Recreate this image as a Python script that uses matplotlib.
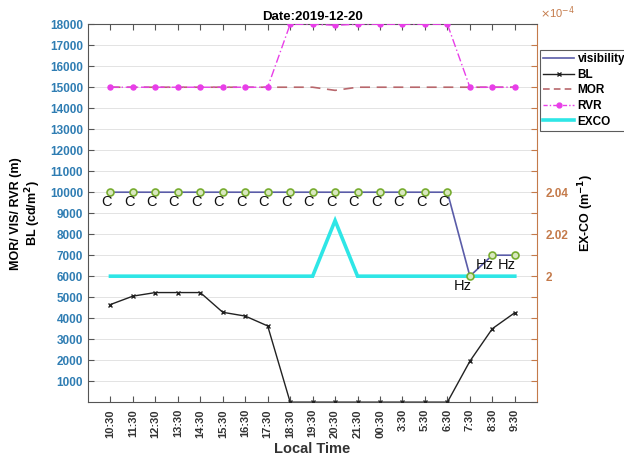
import numpy as np
import matplotlib
matplotlib.use("Agg")
import matplotlib.pyplot as plt
from matplotlib.lines import Line2D

plt.rcParams['font.family'] = ['Liberation Sans', 'DejaVu Sans']

# ---- data ----
times = ['10:30', '11:30', '12:30', '13:30', '14:30', '15:30', '16:30', '17:30',
         '18:30', '19:30', '20:30', '21:30', '00:30', '3:30', '5:30', '6:30',
         '7:30', '8:30', '9:30']
visibility = [10000, 10000, 10000, 10000, 10000, 10000, 10000, 10000,
              10000, 10000, 10000, 10000, 10000, 10000, 10000, 10000,
              6000, 7000, 7000]
weather = ['C', 'C', 'C', 'C', 'C', 'C', 'C', 'C',
           'C', 'C', 'C', 'C', 'C', 'C', 'C', 'C',
           'Hz', 'Hz', 'Hz']
bl = [4650, 5050, 5220, 5220, 5220, 4280, 4100, 3630,
      0, 0, 0, 0, 0, 0, 0, 0,
      1950, 3500, 4260]
mor = [15000, 15000, 15000, 15000, 15000, 15000, 15000, 15000,
       15000, 15000, 14850, 15000, 15000, 15000, 15000, 15000,
       15000, 15000, 15000]
rvr = [15000, 15000, 15000, 15000, 15000, 15000, 15000, 15000,
       18000, 18000, 17950, 18000, 18000, 18000, 18000, 18000,
       15000, 15000, 15000]
exco = [2.0e-4, 2.0e-4, 2.0e-4, 2.0e-4, 2.0e-4, 2.0e-4, 2.0e-4, 2.0e-4,
        2.0e-4, 2.0e-4, 2.0265e-4, 2.0e-4, 2.0e-4, 2.0e-4, 2.0e-4, 2.0e-4,
        2.0e-4, 2.0e-4, 2.0e-4]

# ---- styling ----
LEFT_C = '#2f7db3'
RIGHT_C = '#c47a4a'
VIS_C = '#5a5ca8'
MOR_C = '#b8676c'
RVR_C = '#e83ee8'
EXCO_C = '#2ee6e6'
GREEN = '#77ac30'

x = np.arange(1, len(times) + 1)

fig = plt.figure(figsize=(6.24, 4.57), dpi=100)
ax = fig.add_axes([0.141, 0.120, 0.720, 0.827])
ax2 = ax.twinx()
# left-axis series sit above the extinction curve
ax.set_zorder(ax2.get_zorder() + 1)
ax.patch.set_visible(False)

# right axis: extinction coefficient (its 0.01 steps line up with 1000 m steps)
ax2.plot(x, exco, color=EXCO_C, lw=2.6, solid_joinstyle='miter', zorder=3)
ax2.set_ylim(1.94e-4, 2.12e-4)
r_ticks = np.round(np.arange(1.94, 2.1201, 0.01), 2)
ax2.set_yticks(r_ticks * 1e-4)
ax2.set_yticklabels(['2' if t == 2.0 else ('2.02' if t == 2.02 else ('2.04' if t == 2.04 else ''))
                     for t in r_ticks])
ax2.tick_params(axis='y', direction='in', length=4, colors=RIGHT_C, labelsize=8.5,
                pad=6)
for lab in ax2.get_yticklabels():
    lab.set_fontweight('bold')
ax2.set_ylabel('EX-CO (m$^{\\mathbf{-1}}$)', fontsize=9, fontweight='bold',
               color='black', labelpad=6)
ax2.spines['right'].set_color(RIGHT_C)
for s in ['left', 'top', 'bottom']:
    ax2.spines[s].set_visible(False)
ax2.grid(True, color='#e3e3e3', lw=0.7)
ax2.set_axisbelow(True)
fig.text(0.866, 0.972, '$\\times$10$^{-4}$', color=RIGHT_C, fontsize=8,
         ha='left', va='center')

# left axis
ax.plot(x, mor, color=MOR_C, lw=1.2, ls=(0, (6, 4)), zorder=3)
ax.plot(x, rvr, color=RVR_C, lw=1.0, ls=(0, (6, 2, 1, 2)), marker='o', ms=3.6,
        mfc=RVR_C, mec=RVR_C, zorder=4)
ax.plot(x, bl, color='#222222', lw=1.0, marker='x', ms=3.5, mew=1.0, zorder=4)
ax.plot(x, visibility, color=VIS_C, lw=1.2, zorder=5)
ax.plot(x, visibility, ls='none', marker='o', ms=5, mfc='#d9e8bf', mec=GREEN,
        mew=1.2, zorder=6)
for xi, vi, w in zip(x, visibility, weather):
    ax.annotate(w, (xi, vi), xytext=(1, -2), textcoords='offset points',
                ha='right', va='top', fontsize=10.5, color='#111111', zorder=7)

ax.set_xlim(0, len(times) + 1)
ax.set_ylim(0, 18000)
ax.set_xticks(x)
ax.set_xticklabels(times, rotation=90, fontsize=8, fontweight='bold', color='#333333')
ax.set_yticks(np.arange(1000, 18001, 1000))
ax.tick_params(axis='y', direction='in', length=4, colors=LEFT_C, labelsize=8.5,
               right=False)
for lab in ax.get_yticklabels():
    lab.set_fontweight('bold')
ax.tick_params(axis='x', direction='in', length=4, top=True, color='#555555', pad=5)
ax.tick_params(axis='y', color='#555555')
ax.grid(False)
for s in ['left', 'top', 'bottom']:
    ax.spines[s].set_color('#555555')
ax.spines['right'].set_visible(False)

ax.set_xlabel('Local Time', fontsize=10.5, fontweight='bold', color='#333333',
              labelpad=3)
ax.set_ylabel('MOR/ VIS/ RVR (m)\nBL (cd/m$^{\\mathbf{2}}$)', fontsize=9,
              fontweight='bold', color='black', labelpad=5, linespacing=1.1)
ax.set_title('Date:2019-12-20', fontsize=9.5, fontweight='bold', pad=3)

# legend
handles = [
    Line2D([], [], color=VIS_C, lw=1.2),
    Line2D([], [], color='#222222', lw=1.0, marker='x', ms=3.5),
    Line2D([], [], color=MOR_C, lw=1.2, ls=(0, (4, 2.5))),
    Line2D([], [], color=RVR_C, lw=1.0, ls=(0, (3, 1.5, 1, 1.5)), marker='o', ms=3.5),
    Line2D([], [], color=EXCO_C, lw=2.6),
]
labels = ['visibility', 'BL', 'MOR', 'RVR', 'EXCO']
leg = fig.legend(handles, labels, loc='upper left', bbox_to_anchor=(0.865, 0.891),
                 frameon=True, fancybox=False, edgecolor='#333333',
                 prop={'weight': 'bold', 'size': 8.5}, handlelength=2.6,
                 handletextpad=0.3, labelspacing=0.3, borderpad=0.3,
                 borderaxespad=0)
leg.get_frame().set_linewidth(0.8)

fig.savefig('out.png', dpi=100)
